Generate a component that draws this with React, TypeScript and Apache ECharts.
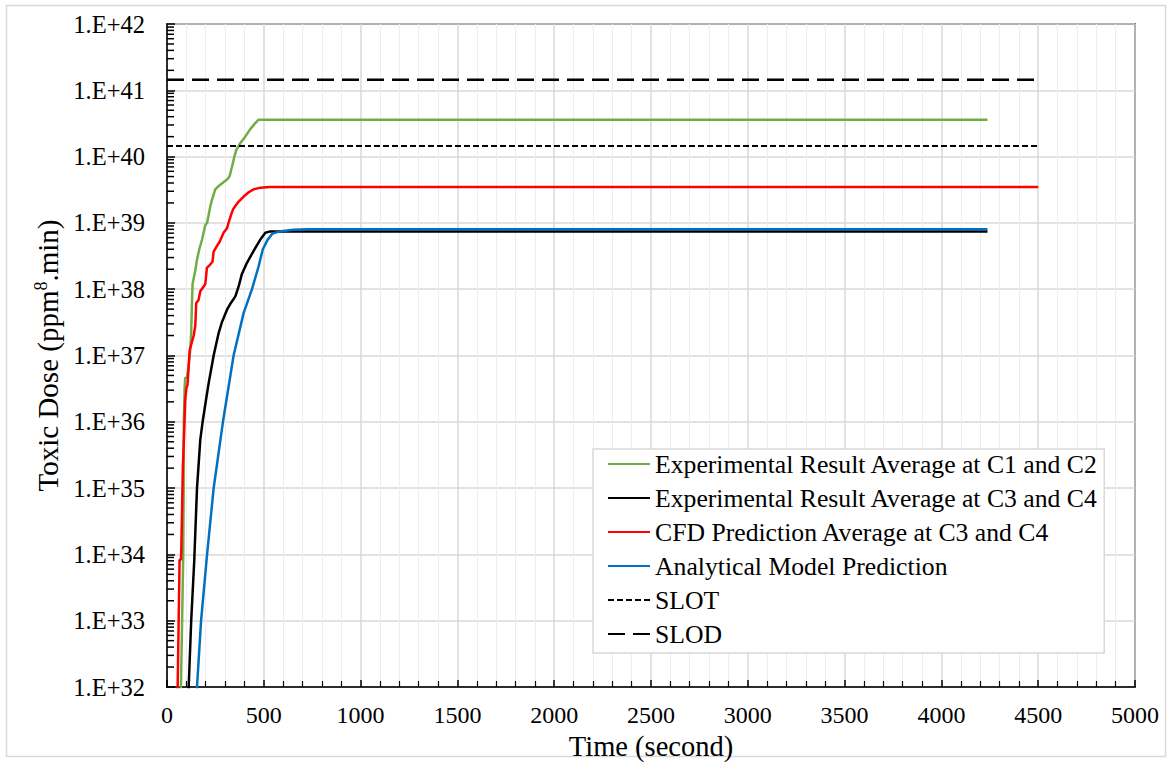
import React, { useEffect, useRef } from 'react';
import * as echarts from 'echarts';

const FONT = '"Liberation Serif", "Times New Roman", serif';

const seriesNames = [
  'Experimental Result Average at C1 and C2',
  'Experimental Result Average at C3 and C4',
  'CFD Prediction Average at C3 and C4',
  'Analytical Model Prediction',
  'SLOT',
  'SLOD',
];
const seriesColors = ['#70ad47', '#000000', '#ff0000', '#0070c0', '#000000', '#000000'];

// Experimental Result Average at C1 and C2
const expC12Time = [60, 72, 78, 84, 86, 87, 91, 94, 103, 110, 120, 125, 128, 132, 146, 155, 167, 181, 198, 207, 224, 232, 249, 267, 310, 323, 336, 348, 358, 379, 404, 430, 456, 473, 490, 4238];
const expC12Dose = [3.2e31, 1.0e32, 1.0e33, 1.0e34, 1.0e35, 1.0e36, 3.2e36, 4.6e36, 4.6e36, 6.3e36, 1.2e37, 2.2e37, 5.0e37, 1.2e38, 1.9e38, 2.8e38, 4.0e38, 5.6e38, 9.3e38, 1.0e39, 1.8e39, 2.2e39, 3.2e39, 3.6e39, 4.5e39, 5.0e39, 7.1e39, 1.0e40, 1.26e40, 1.6e40, 2.0e40, 2.6e40, 3.2e40, 3.6e40, 3.6e40, 3.6e40];

// Experimental Result Average at C3 and C4
const expC34Time = [105, 112, 125, 141, 143, 155, 172, 184, 201, 215, 241, 267, 284, 310, 330, 353, 370, 387, 413, 452, 482, 508, 533, 4238];
const expC34Dose = [3.2e31, 1.0e32, 1.0e33, 8.3e33, 1.2e34, 1.0e35, 5.4e35, 1.0e36, 2.1e36, 3.8e36, 1.0e37, 2.2e37, 3.2e37, 4.9e37, 6.2e37, 7.8e37, 1.1e38, 1.7e38, 2.5e38, 4.0e38, 5.6e38, 7.1e38, 7.45e38, 7.45e38];

// CFD Prediction Average at C3 and C4
const cfdTime = [50, 55, 65, 72, 74, 82, 86, 94, 100, 106, 117, 138, 146, 151, 163, 172, 198, 206, 220, 235, 241, 258, 272, 292, 310, 318, 330, 341, 353, 370, 396, 422, 447, 482, 533, 4500];
const cfdDose = [3.2e31, 1.0e32, 8.3e33, 8.3e33, 1.2e34, 2.1e35, 4.3e35, 2.1e36, 3.2e36, 3.6e36, 1.2e37, 2.0e37, 2.8e37, 6.2e37, 6.9e37, 9.3e37, 1.2e38, 2.1e38, 2.3e38, 2.6e38, 3.7e38, 4.5e38, 5.2e38, 7.1e38, 8.3e38, 1.0e39, 1.3e39, 1.6e39, 1.8e39, 2.1e39, 2.5e39, 2.9e39, 3.2e39, 3.4e39, 3.47e39, 3.47e39];

// Analytical Model Prediction
const analyticTime = [145, 155, 176, 207, 241, 289, 344, 396, 439, 473, 495, 520, 545, 577, 654, 730, 4238];
const analyticDose = [3.2e31, 1.0e32, 1.0e33, 1.0e34, 1.0e35, 1.0e36, 1.0e37, 4.4e37, 1.0e38, 2.2e38, 4.0e38, 5.6e38, 6.9e38, 7.4e38, 7.9e38, 8.0e38, 8.0e38];

// Thresholds
const thresholdTime = [0, 4500];
const slotDose = [1.44e40, 1.44e40];
const slodDose = [1.44e41, 1.44e41];

// Axis
const xMin = 0;
const xMax = 5000;
const xStep = 500;
const yMinDose = 1e32;
const yMaxDose = 1e42;
const minorDecades = [32, 33, 34, 35, 36, 37, 38, 39, 40, 41];
const minorMantissas = [2, 3, 4, 5, 6, 7, 8, 9];

const pairs = (t: number[], v: number[]) => t.map((x, i) => [x, v[i]]);

export default function App() {
  const ref = useRef<HTMLDivElement>(null);
  useEffect(() => {
    const chart = echarts.init(ref.current!, null, { renderer: 'svg' });
    const minorTickValues: number[][] = [];
    minorDecades.forEach((d) => minorMantissas.forEach((m) => minorTickValues.push([0, m * Math.pow(10, d)])));
    const dataSets = [
      pairs(expC12Time, expC12Dose),
      pairs(expC34Time, expC34Dose),
      pairs(cfdTime, cfdDose),
      pairs(analyticTime, analyticDose),
      pairs(thresholdTime, slotDose),
      pairs(thresholdTime, slodDose),
    ];
    const lineTypes: any[] = ['solid', 'solid', 'solid', 'solid', [6, 3], [17, 8]];
    const widths = [2.5, 2.5, 2.5, 2.5, 2, 2.5];
    const axisLineStyle = { color: '#000', width: 1.5 };
    chart.setOption({
      animation: false,
      backgroundColor: '#fff',
      textStyle: { fontFamily: FONT },
      graphic: [
        {
          type: 'rect',
          silent: true,
          z: -10,
          shape: { x: 6.5, y: 5.5, width: 1159, height: 751 },
          style: { fill: 'none', stroke: '#d9d9d9', lineWidth: 1.5 },
        },
      ],
      grid: {
        left: 167,
        right: 36,
        top: 24,
        bottom: 75,
        outerBoundsMode: 'none',
        containLabel: false,
        show: true,
        borderColor: '#000',
        borderWidth: 1.5,
        backgroundColor: 'transparent',
      },
      legend: {
        data: seriesNames,
        orient: 'vertical',
        left: 593,
        top: 449,
        padding: [2, 6, 6, 14],
        itemWidth: 42,
        itemHeight: 14,
        itemGap: 8,
        itemStyle: { opacity: 0 },
        backgroundColor: '#fff',
        borderColor: '#d9d9d9',
        borderWidth: 1.5,
        borderRadius: 0,
        textStyle: { fontFamily: FONT, fontSize: 25.7, color: '#000', lineHeight: 25 },
      },
      xAxis: {
        type: 'value',
        min: xMin,
        max: xMax,
        interval: xStep,
        axisLine: { show: true, onZero: false, lineStyle: axisLineStyle },
        axisTick: { show: true, inside: true, length: 7, lineStyle: axisLineStyle },
        minorTick: { show: true, splitNumber: 5, length: 6, lineStyle: { color: '#000', width: 1.2 } },
        splitLine: { show: true, lineStyle: { color: '#d9d9d9', width: 1.5 } },
        minorSplitLine: { show: true, lineStyle: { color: '#eeeeee', width: 1 } },
        axisLabel: {
          fontFamily: FONT,
          fontSize: 24,
          color: '#000',
          margin: 16,
          formatter: (v: number) => String(v),
        },
        name: 'Time (second)',
        nameLocation: 'middle',
        nameGap: 43,
        nameTextStyle: { fontFamily: FONT, fontSize: 28.5, color: '#000' },
      },
      yAxis: {
        type: 'log',
        logBase: 10,
        min: yMinDose,
        max: yMaxDose,
        splitNumber: 10,
        axisLine: { show: true, onZero: false, lineStyle: axisLineStyle },
        axisTick: { show: true, inside: true, length: 8, lineStyle: axisLineStyle },
        splitLine: { show: true, lineStyle: { color: '#d9d9d9', width: 1.5 } },
        axisLabel: {
          fontFamily: FONT,
          fontSize: 24.5,
          color: '#000',
          margin: 22,
          formatter: (v: number) => '1.E+' + Math.round(Math.log10(v)),
        },
        name: '{a|Toxic Dose (ppm}{s|8}{a|.min)}',
        nameLocation: 'middle',
        nameGap: 103,
        nameRotate: 90,
        nameTextStyle: {
          fontFamily: FONT,
          fontSize: 29,
          color: '#000',
          rich: {
            a: { fontFamily: FONT, fontSize: 29, color: '#000', lineHeight: 32 },
            s: { fontFamily: FONT, fontSize: 18, color: '#000', verticalAlign: 'top', lineHeight: 32, padding: [0, 0, 8, 0] },
          },
        },
      },
      series: [
        ...seriesNames.map((name, i) => ({
          name,
          type: 'line',
          data: dataSets[i],
          symbol: 'none',
          showSymbol: false,
          lineStyle: { color: seriesColors[i], width: widths[i], type: lineTypes[i] },
          itemStyle: { color: seriesColors[i] },
          z: 3,
        })),
        {
          type: 'custom',
          name: 'yMinorTicks',
          silent: true,
          z: 4,
          clip: false,
          data: minorTickValues,
          encode: { x: 0, y: 1 },
          renderItem: (_p: any, api: any) => {
            const p = api.coord([0, api.value(1)]);
            return {
              type: 'line',
              shape: { x1: p[0], y1: p[1], x2: p[0] + 7, y2: p[1] },
              style: { stroke: '#000', lineWidth: 1.5 },
            };
          },
        },
      ],
    });
    return () => chart.dispose();
  }, []);
  return (
    <div
      ref={ref}
      style={{ position: 'fixed', left: 0, top: 0, width: 1171, height: 762, background: '#fff' }}
    />
  );
}
